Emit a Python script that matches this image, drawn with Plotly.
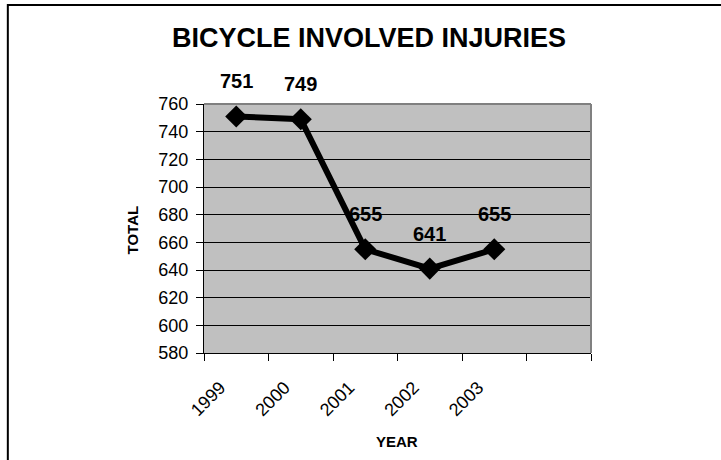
import plotly.graph_objects as go

# values
years = ["1999", "2000", "2001", "2002", "2003"]
injuries = [751, 749, 655, 641, 655]
y_ticks = [580, 600, 620, 640, 660, 680, 700, 720, 740, 760]
n_slots = 6  # the category axis keeps one empty slot at the right

FONT = "Arial, Liberation Sans, sans-serif"

xpos = list(range(len(years)))

fig = go.Figure()
fig.add_trace(go.Scatter(
    x=xpos, y=injuries,
    mode="lines+markers",
    line=dict(color="black", width=6),
    marker=dict(symbol="diamond", size=17, color="black"),
    cliponaxis=False,
    hoverinfo="skip",
))

# value labels above each point
for xv, yv in zip(xpos, injuries):
    fig.add_annotation(x=xv, y=yv, text=f"<b>{yv}</b>", showarrow=False,
                       xanchor="center", yanchor="bottom", yshift=22,
                       font=dict(family=FONT, size=20, color="black"))

fig.update_layout(
    width=721, height=460,
    margin=dict(l=204, r=130, t=104, b=107),
    paper_bgcolor="white",
    plot_bgcolor="#C0C0C0",
    showlegend=False,
    font=dict(family=FONT, color="black"),
    title=dict(text="<b>BICYCLE INVOLVED INJURIES</b>",
               font=dict(family=FONT, size=27, color="black"),
               xref="container", x=369 / 721, xanchor="center",
               yref="container", y=1 - 38 / 460, yanchor="middle"),
)

fig.update_xaxes(
    range=[-0.5, n_slots - 0.5],
    tickmode="array", tickvals=xpos, ticktext=years,
    tickangle=-45, ticks="",
    ticklabelstandoff=16, ticklabelshift=-16,
    tickfont=dict(family=FONT, size=18, color="black"),
    showgrid=False, zeroline=False,
    showline=True, linecolor="black", linewidth=1,
    minor=dict(tickmode="array",
               tickvals=[i - 0.5 for i in range(n_slots + 1)],
               ticks="outside", ticklen=7, tickcolor="black", tickwidth=1,
               showgrid=False),
)
fig.update_yaxes(
    range=[y_ticks[0], y_ticks[-1]],
    tickmode="array", tickvals=y_ticks,
    ticks="outside", ticklen=7, tickcolor="black",
    ticklabelstandoff=4,
    tickfont=dict(family=FONT, size=18, color="black"),
    showgrid=True, gridcolor="black", gridwidth=1,
    zeroline=False,
    showline=True, linecolor="black", linewidth=1,
)

# axis titles
fig.add_annotation(text="<b>YEAR</b>", xref="paper", yref="paper",
                   x=0.499, y=-0.357, showarrow=False,
                   xanchor="center", yanchor="middle",
                   font=dict(family=FONT, size=15, color="black"))
fig.add_annotation(text="<b>TOTAL</b>", xref="paper", yref="paper",
                   x=-0.1836, y=0.496, showarrow=False, textangle=-90,
                   xanchor="center", yanchor="middle",
                   font=dict(family=FONT, size=15, color="black"))

# gray frame on top and right of the plot area
fig.add_shape(type="line", xref="paper", yref="paper", x0=0, x1=1, y0=1, y1=1,
              line=dict(color="#808080", width=2), layer="above")
fig.add_shape(type="line", xref="paper", yref="paper", x0=1, x1=1, y0=0, y1=1,
              line=dict(color="#808080", width=2), layer="above")
# outer chart border (only top and left fall inside the picture)
fig.add_shape(type="rect", xref="paper", yref="paper",
              x0=-0.5069, x1=3, y0=-3, y1=1.3976,
              line=dict(color="black", width=2), layer="above")

# page body has an 8px default margin; drop it so the figure sits at 0,0
fig.write_html("out.html", config={"displayModeBar": False},
               post_script="document.body.style.margin='0';")
